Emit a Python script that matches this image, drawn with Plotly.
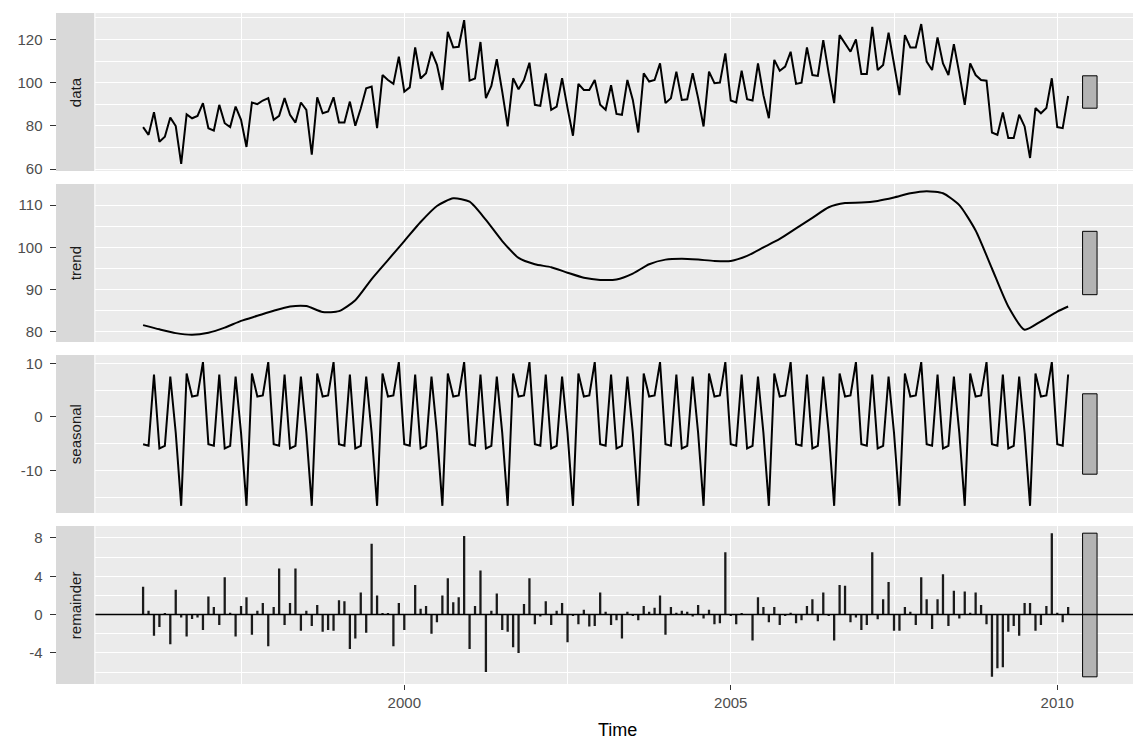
import plotly.graph_objects as go

# ---------------- data ----------------
start_year = 1996
data_values = [
    79.4, 75.8, 86.3, 72.6, 74.9, 83.8, 79.9, 62.4, 85.3, 83.5, 84.6, 90.5,
    78.9, 77.8, 89.7, 81.2, 79.4, 88.9, 82.8, 70.2, 90.8, 90.0, 91.7, 92.8,
    82.8, 84.6, 92.8, 85.1, 81.5, 90.8, 87.4, 66.6, 93.2, 85.8, 86.6, 93.2,
    81.5, 81.5, 91.2, 80.0, 88.0, 97.4, 98.2, 78.9, 103.5, 101.2, 99.4, 112.0,
    95.8, 97.8, 116.3, 101.9, 104.3, 114.3, 108.2, 96.6, 123.5, 116.3, 116.6, 128.9,
    100.9, 101.9, 118.8, 92.8, 98.5, 110.8, 95.8, 79.7, 102.0, 96.9, 101.2, 109.2,
    89.7, 89.2, 104.3, 87.4, 88.9, 102.0, 88.2, 75.4, 99.4, 96.6, 96.6, 101.2,
    89.7, 87.4, 98.8, 85.5, 85.1, 101.2, 92.0, 76.9, 104.3, 100.5, 101.2, 108.9,
    90.5, 92.8, 105.1, 92.0, 92.3, 104.3, 92.8, 79.7, 105.1, 99.7, 100.0, 113.5,
    91.7, 90.8, 105.5, 92.3, 91.7, 108.9, 94.2, 83.5, 110.5, 105.5, 107.4, 114.3,
    99.4, 100.0, 116.3, 103.5, 103.1, 119.7, 104.3, 90.5, 122.0, 118.2, 114.3, 120.0,
    104.0, 104.0, 125.8, 105.8, 108.2, 123.1, 108.9, 94.2, 122.0, 116.3, 116.3, 127.1,
    109.7, 105.8, 120.9, 108.9, 103.5, 117.8, 104.3, 89.7, 108.9, 103.5, 101.2, 100.9,
    76.9, 75.8, 86.2, 74.3, 74.3, 85.1, 79.7, 65.1, 88.2, 85.8, 88.2, 102.0,
    79.4, 78.9, 93.8,
]
trend_time = [
    1996.0, 1996.25, 1996.5, 1996.75, 1997.0, 1997.25, 1997.5, 1997.75,
    1998.0, 1998.25, 1998.5, 1998.75, 1999.0, 1999.25, 1999.5, 1999.75,
    2000.0, 2000.25, 2000.5, 2000.75, 2001.0, 2001.25, 2001.5, 2001.75,
    2002.0, 2002.25, 2002.5, 2002.75, 2003.0, 2003.25, 2003.5, 2003.75,
    2004.0, 2004.25, 2004.5, 2004.75, 2005.0, 2005.25, 2005.5, 2005.75,
    2006.0, 2006.25, 2006.5, 2006.75, 2007.0, 2007.25, 2007.5, 2007.75,
    2008.0, 2008.25, 2008.5, 2008.75, 2009.0, 2009.25, 2009.5, 2009.75,
    2010.0, 2010.1667,
]
trend_values = [
    81.6, 80.6, 79.7, 79.3, 79.8, 81.0, 82.6, 83.8,
    85.0, 86.0, 86.1, 84.7, 84.9, 87.5, 92.5, 97.0,
    101.5, 106.0, 109.8, 111.6, 110.8, 106.5, 101.5, 97.5,
    96.0, 95.3, 94.0, 92.8, 92.3, 92.4, 93.8, 96.0,
    97.1, 97.3, 97.1, 96.8, 96.8, 98.0, 100.0, 102.0,
    104.5, 107.0, 109.5, 110.5, 110.6, 111.0, 111.8, 112.8,
    113.3, 112.8, 110.0, 104.0, 95.0, 86.0, 80.5, 82.5,
    84.8, 86.0,
]
seasonal_by_month = [-5.1, -5.4, 7.9, -5.9, -5.4, 7.5, -3.0, -16.6, 8.1, 3.8, 4.0, 10.2]
remainder_values = [
    2.9, 0.4, -2.2, -1.3, 0.1, -3.1, 2.6, -0.3, -2.3, -0.45, -0.3, -1.6,
    1.9, 0.8, -1.1, 3.9, 0.2, -2.3, 0.9, 1.8, -2.1, 0.4, 1.2, -3.3,
    0.8, 4.8, -1.1, 1.2, 4.8, -1.7, 0.4, -1.2, 1.0, -1.8, -1.6, -1.7,
    1.5, 1.4, -3.6, -2.5, 2.3, -1.9, 7.4, 2.0, 0.1, 0.1, -3.3, 1.2,
    -1.6, 0.05, 3.1, 0.6, 0.9, -2.0, -0.8, 2.0, 3.8, 1.3, 1.8, 8.2,
    -3.6, 0.9, 4.6, -6.0, 0.4, 2.2, -1.6, -1.8, -3.4, -4.0, 1.1, 3.8,
    -1.0, -0.2, 1.4, -1.1, 0.4, 1.2, -2.9, -0.05, -1.0, 0.5, -1.25, -1.2,
    2.3, 0.3, -1.1, -0.6, -2.5, 0.3, -0.1, -0.6, 0.9, 0.3, 0.7, 2.0,
    -2.1, 0.8, 0.2, 0.4, 0.3, -0.2, 1.0, -0.4, 0.5, -1.0, -0.9, 6.5,
    -0.1, -1.0, 0.07, 0.0, -2.7, 1.8, 0.8, -0.8, 0.8, -1.1, -0.1, 0.2,
    -0.9, -0.6, 0.9, 1.6, -0.7, 2.3, -0.1, -2.7, 3.1, 3.0, -0.8, -0.3,
    -1.6, -1.1, 6.5, -0.5, 1.6, 3.4, -1.7, -1.7, 0.8, 0.3, -1.1, 3.9,
    1.6, -1.5, 1.6, 4.2, -1.2, 2.5, -0.4, 2.4, 0.2, 2.3, 1.0, -1.0,
    -6.5, -5.6, -5.5, -1.8, -1.2, -2.2, 1.2, 1.2, -1.7, -1.1, 0.9, 8.5,
    0.2, -0.8, 0.8,
]
panel_names = ["data", "trend", "seasonal", "remainder"]
x_tick_vals = [2000, 2005, 2010]
x_tick_labels = ["2000", "2005", "2010"]
x_minor_vals = [1997.5, 2002.5, 2007.5]
data_ticks = [60, 80, 100, 120]
trend_ticks = [80, 90, 100, 110]
seasonal_ticks = [-10, 0, 10]
remainder_ticks = [-4, 0, 4, 8]
x_axis_title = "Time"

# ---------------- derived ----------------
n = len(data_values)
time = [start_year + i / 12 for i in range(n)]
seasonal_values = [seasonal_by_month[i % 12] for i in range(n)]

W, H = 1133, 740
FONT = "Liberation Sans, Arial, Helvetica, sans-serif"
panel_left_px = 95.4
strip_x0_px, strip_x1_px = 56.0, 94.3
axis_pos_px = 55.5
panel_tops = [13, 184, 355, 526]
panel_h = 158

span = time[-1] - time[0]
bar_x0 = time[-1] + span / 64
bar_x1 = bar_x0 + span / 64
x_left = time[0] - 0.05 * (bar_x1 - time[0])
x_right = 2011.16  # reference image is cropped at the right

series = [
    (time, data_values, data_ticks, "line"),
    (trend_time, trend_values, trend_ticks, "line"),
    (time, seasonal_values, seasonal_ticks, "line"),
    (time, remainder_values, remainder_ticks, "bar"),
]
bar_len = min(max(v) - min(v) for _, v, _, _ in series)

fig = go.Figure()
layout = dict(
    width=W, height=H,
    margin=dict(l=0, r=0, t=0, b=0),
    paper_bgcolor="white", plot_bgcolor="#ebebeb",
    showlegend=False,
    font=dict(family=FONT),
    shapes=[], annotations=[],
)

for k, (xs, ys, ticks, kind) in enumerate(series):
    r = k + 1
    sfx = "" if r == 1 else str(r)
    xa, ya = "x" + sfx, "y" + sfx
    if kind == "line":
        fig.add_trace(go.Scatter(
            x=xs, y=ys, mode="lines", xaxis=xa, yaxis=ya,
            line=dict(color="black", width=2.0,
                      shape="spline" if r == 2 else "linear", smoothing=0.6),
            hoverinfo="skip"))
    else:
        fig.add_trace(go.Bar(
            x=xs, y=ys, xaxis=xa, yaxis=ya, width=0.035,
            marker=dict(color="#1a1a1a", line=dict(width=0)), hoverinfo="skip"))

    lo, hi = min(ys), max(ys)
    mid = (lo + hi) / 2
    pad = 0.05 * (hi - lo)
    yr = [lo - pad, hi + pad]

    step = ticks[1] - ticks[0]
    minors = [t + step / 2 for t in [ticks[0] - step] + ticks]
    minors = [m for m in minors if yr[0] <= m <= yr[1]]

    top = panel_tops[k]
    dom = [1 - (top + panel_h) / H, 1 - top / H]

    layout["xaxis" + sfx] = dict(
        domain=[panel_left_px / W, 1], range=[x_left, x_right], anchor=ya,
        showgrid=True, gridcolor="white", gridwidth=1.3, zeroline=False,
        tickmode="array", tickvals=x_tick_vals, ticktext=x_tick_labels,
        showticklabels=(r == 4), ticks="outside" if r == 4 else "",
        ticklen=5, tickwidth=1, tickcolor="#333333",
        tickfont=dict(size=15, color="#4d4d4d", family=FONT),
        minor=dict(tickmode="array", tickvals=x_minor_vals, showgrid=True,
                   gridcolor="white", gridwidth=0.6, ticks=""),
        showline=False, automargin=False, fixedrange=True,
    )
    layout["yaxis" + sfx] = dict(
        domain=dom, range=yr, anchor="free", position=axis_pos_px / W, side="left",
        showgrid=True, gridcolor="white", gridwidth=1.3, zeroline=False,
        tickmode="array", tickvals=ticks, ticktext=[str(t) for t in ticks],
        ticks="outside", ticklen=6, tickwidth=1, tickcolor="#333333",
        ticklabelstandoff=4,
        tickfont=dict(size=15, color="#4d4d4d", family=FONT),
        minor=dict(tickmode="array", tickvals=minors, showgrid=True,
                   gridcolor="white", gridwidth=0.6, ticks=""),
        showline=False, automargin=False, fixedrange=True,
    )

    # strip
    layout["shapes"].append(dict(
        type="rect", xref="paper", yref="paper",
        x0=strip_x0_px / W, x1=strip_x1_px / W, y0=dom[0], y1=dom[1],
        fillcolor="#d9d9d9", line=dict(width=0), layer="below"))
    layout["annotations"].append(dict(
        x=(strip_x0_px + strip_x1_px) / 2 / W, y=(dom[0] + dom[1]) / 2,
        xref="paper", yref="paper", text=panel_names[k], textangle=-90,
        showarrow=False, font=dict(size=15, color="#1a1a1a", family=FONT),
        xanchor="center", yanchor="middle"))

    # range bar
    layout["shapes"].append(dict(
        type="rect", xref=xa, yref=ya,
        x0=bar_x0, x1=bar_x1, y0=mid - bar_len / 2, y1=mid + bar_len / 2,
        fillcolor="#b3b3b3", line=dict(color="black", width=1), layer="above"))

    if kind == "bar":
        layout["shapes"].append(dict(
            type="line", xref=xa + " domain", yref=ya, x0=0, x1=1, y0=0, y1=0,
            line=dict(color="black", width=1.5), layer="above"))

layout["annotations"].append(dict(
    x=617 / W, y=1 - 730 / H, xref="paper", yref="paper", text=x_axis_title,
    showarrow=False, font=dict(size=18, color="black", family=FONT),
    xanchor="center", yanchor="middle"))

fig.update_layout(**layout)
fig.write_html(
    "out.html",
    config={"displayModeBar": False},
    post_script="document.body.style.margin='0px';document.body.style.overflow='hidden';",
)
